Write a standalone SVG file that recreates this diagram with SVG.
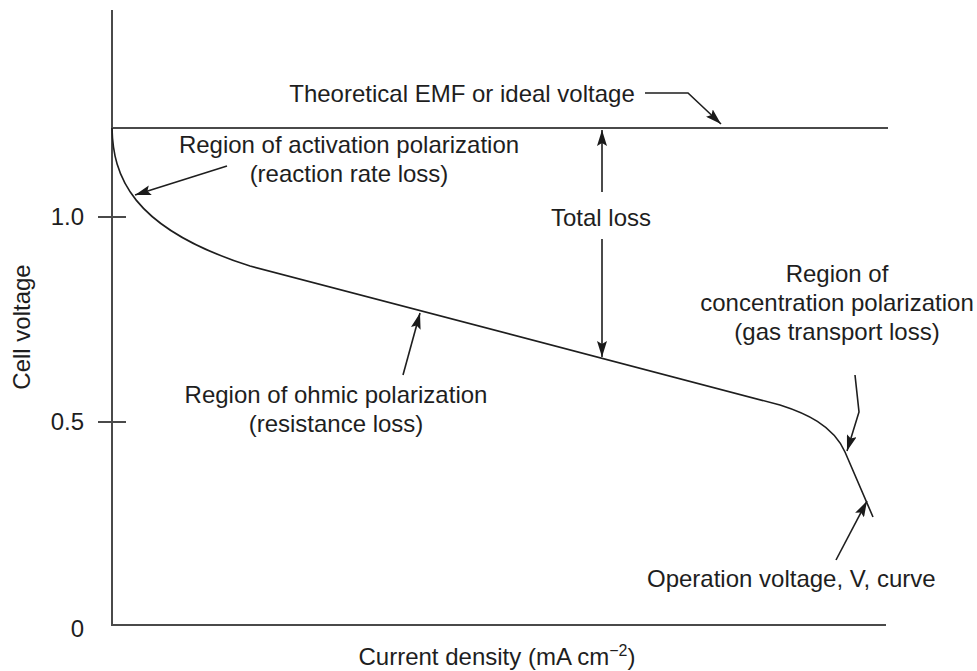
<svg xmlns="http://www.w3.org/2000/svg" width="977" height="671" viewBox="0 0 977 671">
  <defs>
    <marker id="arr" viewBox="0 0 16 10" refX="16" refY="5" markerWidth="16" markerHeight="10" markerUnits="userSpaceOnUse" orient="auto">
      <path d="M0,0 L16,5 L0,10 L3,5 Z" fill="#1a1a1a"/>
    </marker>
    <marker id="arrs" viewBox="0 0 16 10" refX="16" refY="5" markerWidth="16" markerHeight="10" markerUnits="userSpaceOnUse" orient="auto-start-reverse">
      <path d="M0,0 L16,5 L0,10 L3,5 Z" fill="#1a1a1a"/>
    </marker>
  </defs>
  <style>
    .t { font-family: "Liberation Sans", Arial, Helvetica, sans-serif; font-size: 24px; fill: #1e1e1e; }
    .m { text-anchor: middle; }
    .e { text-anchor: end; }
    .axis { stroke: #4a4a4a; stroke-width: 2; fill: none; }
    .curve { stroke: #1e1e1e; stroke-width: 1.6; fill: none; }
    .conn { stroke: #1e1e1e; stroke-width: 1.6; fill: none; marker-end: url(#arr); }
  </style>
  <rect width="977" height="671" fill="#ffffff"/>

  <g id="axes">
    <path class="axis" d="M112,10 L112,625 L886,625"/>
    <path class="axis" d="M98,217 L126,217 M98,422 L126,422"/>
    <text class="t e" x="84" y="225">1.0</text>
    <text class="t e" x="84" y="430">0.5</text>
    <text class="t e" x="84" y="637">0</text>
    <text class="t m" transform="translate(30,327) rotate(-90)">Cell voltage</text>
    <text class="t m" x="497" y="665">Current density (mA cm<tspan dy="-9" font-size="16">−2</tspan><tspan dy="9">)</tspan></text>
  </g>

  <g id="emf-line">
    <path class="axis" d="M112,128 L888,128"/>
  </g>

  <g id="operation-curve">
    <path class="curve" d="M112,128 C113,175 130,228 250,266 L780,405 C805,413 833,425 845,452 L873,517"/>
  </g>

  <g id="label-emf">
    <text class="t m" x="462" y="102">Theoretical EMF or ideal voltage</text>
  </g>
  <g id="label-activation">
    <text class="t m" x="349" y="153">Region of activation polarization</text>
    <text class="t m" x="349" y="182">(reaction rate loss)</text>
  </g>
  <g id="label-total">
    <text class="t m" x="601" y="226">Total loss</text>
  </g>
  <g id="label-ohmic">
    <text class="t m" x="336" y="403">Region of ohmic polarization</text>
    <text class="t m" x="336" y="432">(resistance loss)</text>
  </g>
  <g id="label-concentration">
    <text class="t m" x="837" y="282">Region of</text>
    <text class="t m" x="837" y="311">concentration polarization</text>
    <text class="t m" x="837" y="340">(gas transport loss)</text>
  </g>
  <g id="label-operation">
    <text class="t" x="647" y="587">Operation voltage, V, curve</text>
  </g>

  <g id="connectors">
    <path class="conn" d="M645,93 L688,93 L721,124"/>
    <path class="conn" d="M227,166 L135,195"/>
    <path class="conn" d="M602,192 L602,130"/>
    <path class="conn" d="M602,239 L602,357"/>
    <path class="conn" d="M403,375 L420,313"/>
    <path class="conn" d="M855,375 L859,412 L847,451"/>
    <path class="conn" d="M836,560 L867,501"/>
  </g>
</svg>
